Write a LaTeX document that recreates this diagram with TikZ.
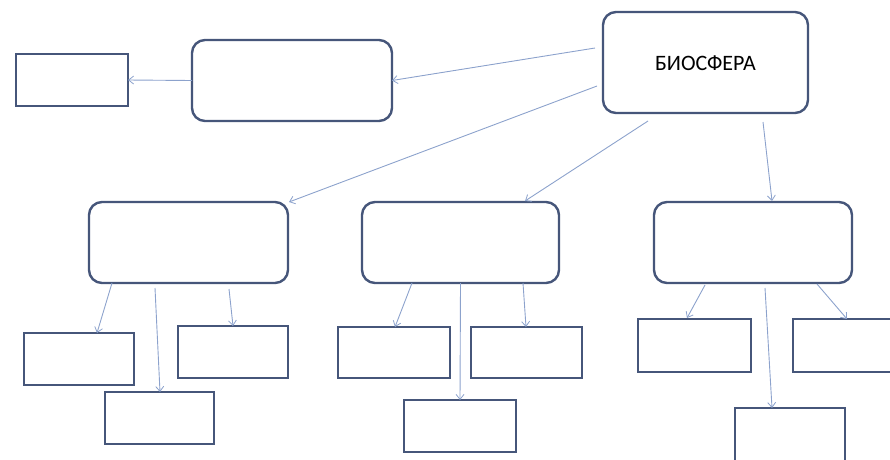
\documentclass[tikz,border=0pt]{standalone}
\usepackage{fontspec}
\setmainfont{Carlito}
\usetikzlibrary{arrows.meta}
\definecolor{boxline}{RGB}{70,86,122}
\definecolor{linkline}{RGB}{140,162,204}
\begin{document}
\begin{tikzpicture}[x=1pt,y=-1pt,
  base/.style={draw=boxline,line width=2.4pt,fill=white,inner sep=0pt,outer sep=0pt},
  roundbox/.style={base,rounded corners=13pt,minimum width=#1,minimum height=81pt},
  leafbox/.style={base,minimum width=111pt,minimum height=52pt},
  link/.style={draw=linkline,line width=0.9pt,-{Straight Barb[length=5pt,width=8pt,line width=0.8pt]}}]
  \useasboundingbox (0,0) rectangle (890,459);
  \clip (0,0) rectangle (890,459);

  % root and first level
  \node[roundbox=205pt,minimum height=101pt,font=\fontsize{22}{26}\selectfont] (bio) at (705.5,62.5) {\raisebox{-8pt}[0pt][0pt]{БИОСФЕРА}};
  \node[roundbox=200pt] (a) at (292,80.5) {};
  \node[leafbox,minimum width=112pt] (tl) at (72,80) {};
  \node[roundbox=199pt] (l) at (188.5,242.5) {};
  \node[roundbox=197pt] (m) at (460.5,242.5) {};
  \node[roundbox=198pt] (r) at (753,242.5) {};

  % leaves
  \node[leafbox,minimum width=110pt] (l1) at (79,359) {};
  \node[leafbox,minimum width=109pt] (l2) at (159.5,418) {};
  \node[leafbox,minimum width=110pt] (l3) at (233,352) {};
  \node[leafbox,minimum width=112pt,minimum height=51pt] (m1) at (394,352.5) {};
  \node[leafbox,minimum width=112pt] (m2) at (460,426) {};
  \node[leafbox,minimum height=51pt] (m3) at (526.5,352.5) {};
  \node[leafbox,minimum width=113pt,minimum height=53pt] (r1) at (694.5,345.5) {};
  \node[leafbox,minimum width=112pt,minimum height=53pt] (r2) at (849,345.5) {};
  \node[leafbox,minimum width=110pt,minimum height=53pt] (r3) at (790,434.5) {};

  % links from the root
  \draw[link] ([shift={(-8,36)}]bio.north west) -- (a.east);
  \draw[link] (a.west) -- (tl.east);
  \draw[link] ([shift={(-6,74)}]bio.north west) -- ([shift={(1,0)}]l.north east);
  \draw[link] ([shift={(45,8)}]bio.south west) -- ([shift={(163,-1)}]m.north west);
  \draw[link] ([shift={(160,9)}]bio.south west) -- ([shift={(118,-1)}]r.north west);

  % links to the leaves
  \draw[link] ([shift={(23,0)}]l.south west) -- ([shift={(73,0)}]l1.north west);
  \draw[link] ([shift={(66,5)}]l.south west) -- ([shift={(55,0)}]l2.north west);
  \draw[link] ([shift={(140,6)}]l.south west) -- ([shift={(55,0)}]l3.north west);
  \draw[link] ([shift={(50,0)}]m.south west) -- ([shift={(57,0)}]m1.north west);
  \draw[link] (m.south) -- (m2.north);
  \draw[link] ([shift={(161,0)}]m.south west) -- ([shift={(55,0)}]m3.north west);
  \draw[link] ([shift={(51,2)}]r.south west) -- ([shift={(49,-1)}]r1.north west);
  \draw[link] ([shift={(163,1)}]r.south west) -- ([shift={(54,0)}]r2.north west);
  \draw[link] ([shift={(111,5)}]r.south west) -- ([shift={(37,0)}]r3.north west);
\end{tikzpicture}
\end{document}
